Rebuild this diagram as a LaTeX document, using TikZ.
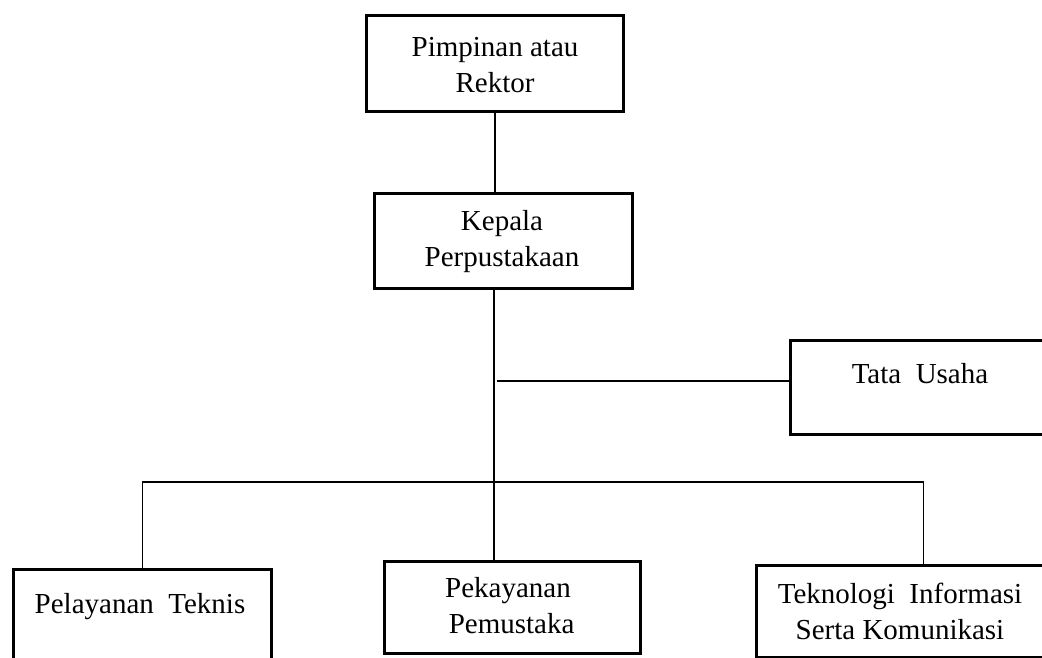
\documentclass[tikz,border=0pt]{standalone}
\usepackage{fontspec}
\setmainfont{Liberation Serif}

\begin{document}
\begin{tikzpicture}[
  x=1pt, y=-1pt,
  frame/.style={draw, rectangle, line width=2.6pt, inner sep=0pt, anchor=north west},
  boxtext/.style={align=center, inner sep=0pt, font=\fontsize{29}{36}\selectfont},
  link/.style={draw, line width=1.4pt}
]
\useasboundingbox (0,0) rectangle (1042,657);
\clip (0,0) rectangle (1042,657);

% frames
\node[frame, minimum width=257pt, minimum height=96pt] (rektor) at (365,14) {};
\node[frame, minimum width=258pt, minimum height=95pt] (kepala) at (373,192) {};
\node[frame, minimum width=290pt, minimum height=94pt] (tata) at (789,339) {};
\node[frame, minimum width=258pt, minimum height=130pt] (pelayanan) at (12,568) {};
\node[frame, minimum width=256pt, minimum height=92pt] (pekayanan) at (383,560) {};
\node[frame, minimum width=334pt, minimum height=92pt] (teknologi) at (755,564) {};

% texts
\node[boxtext, anchor=north] (rektor-txt) at (495,37) {Pimpinan atau\\Rektor};
\node[boxtext, anchor=north] (kepala-txt) at (502,210) {Kepala\\Perpustakaan};
\node[boxtext, anchor=base] (tata-txt) at (920,383) {Tata~~Usaha};
\node[boxtext, anchor=base] (pelayanan-txt) at (140,613) {Pelayanan~~Teknis};
\node[boxtext, anchor=north] (pekayanan-txt) at (508,577) {Pekayanan\\~Pemustaka};
\node[boxtext, anchor=north] (teknologi-txt) at (900,583) {Teknologi~~Informasi\\Serta Komunikasi};

% connectors
\coordinate (fork) at (494,482);
\coordinate (spur) at (497,381);
\draw[link] (rektor.south) -- (rektor.south |- kepala.north);
\draw[link] (kepala.south -| fork) -- (pekayanan.north -| fork);
\draw[link] (spur) -- (spur -| tata.west);
\draw[link] (pelayanan.north) -- (pelayanan.north |- fork) -- (fork -| teknologi.north) -- (teknologi.north);

\end{tikzpicture}
\end{document}
